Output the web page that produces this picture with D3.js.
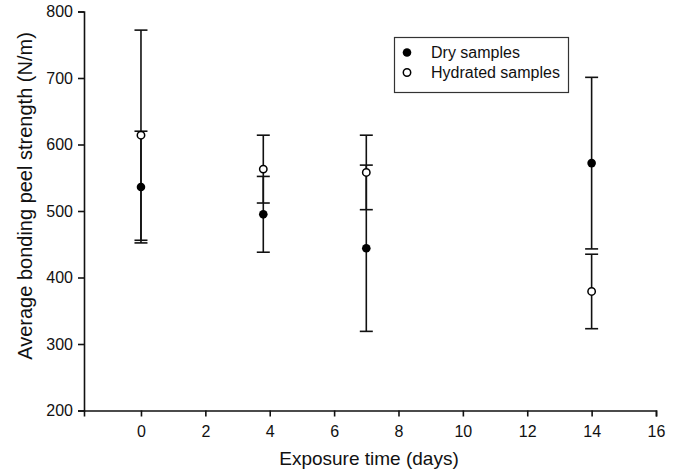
<!DOCTYPE html>
<html>
<head>
<script src="https://cdnjs.cloudflare.com/ajax/libs/d3/7.8.5/d3.min.js"></script>
<style>
  body { margin: 0; background: #fff; font-family: Arial, "Liberation Sans", sans-serif; }
</style>
</head>
<body>
<script>
// exposure time (plot position), means and error half-widths
var days = [0, 3.8, 7, 14];
var dryMean = [536, 495, 444, 572];
var dryErr = [84, 57, 125, 129];
var hydMean = [614, 563, 558, 379];
var hydErr = [158, 51, 56, 56];
var xTicks = [0, 2, 4, 6, 8, 10, 12, 14, 16];
var yTicks = [200, 300, 400, 500, 600, 700, 800];

var width = 682, height = 474;

var svg = d3.select("body").append("svg")
  .attr("width", width)
  .attr("height", height);

var x = d3.scaleLinear().domain([-1.77, 16]).range([84, 656]);
var y = d3.scaleLinear().domain([200, 800]).range([410.5, 11.5]);

var xAxis = svg.append("g")
  .attr("transform", "translate(0," + y(200) + ")")
  .call(d3.axisBottom(x).tickValues(xTicks).tickSizeOuter(0).tickSize(6).tickPadding(9));

var yAxis = svg.append("g")
  .attr("transform", "translate(" + x(-1.77) + ",0)")
  .call(d3.axisLeft(y).tickValues(yTicks).tickSizeOuter(0).tickSize(6).tickPadding(5));

[xAxis, yAxis].forEach(function(a) {
  a.selectAll("path, line").attr("stroke", "#111").attr("stroke-width", 1.6);
  a.selectAll("text")
    .attr("fill", "#111")
    .style("font-family", "Arial, 'Liberation Sans', sans-serif")
    .style("font-size", "16px");
});

svg.append("text")
  .attr("x", 369).attr("y", 465)
  .attr("text-anchor", "middle")
  .style("font-size", "19px")
  .attr("fill", "#111")
  .text("Exposure time (days)");

svg.append("text")
  .attr("transform", "translate(32," + 196 + ") rotate(-90)")
  .attr("text-anchor", "middle")
  .style("font-size", "20px")
  .attr("fill", "#111")
  .text("Average bonding peel strength (N/m)");

function series(mean, err) {
  return days.map(function(d, i) { return {x: d, m: mean[i], e: err[i]}; });
}
var dry = series(dryMean, dryErr);
var hyd = series(hydMean, hydErr);

function drawErr(data) {
  var g = svg.append("g").attr("stroke", "#111").attr("stroke-width", 1.6);
  data.forEach(function(d) {
    var cx = x(d.x);
    g.append("line").attr("x1", cx).attr("x2", cx)
      .attr("y1", y(d.m + d.e)).attr("y2", y(d.m - d.e));
    [d.m + d.e, d.m - d.e].forEach(function(v) {
      g.append("line").attr("x1", cx - 6.5).attr("x2", cx + 6.5)
        .attr("y1", y(v)).attr("y2", y(v));
    });
  });
}
drawErr(dry);
drawErr(hyd);

svg.append("g").selectAll("circle").data(dry).enter().append("circle")
  .attr("cx", function(d) { return x(d.x); })
  .attr("cy", function(d) { return y(d.m); })
  .attr("r", 4.3)
  .attr("fill", "#000");

svg.append("g").selectAll("circle").data(hyd).enter().append("circle")
  .attr("cx", function(d) { return x(d.x); })
  .attr("cy", function(d) { return y(d.m); })
  .attr("r", 3.7)
  .attr("fill", "#fff")
  .attr("stroke", "#000")
  .attr("stroke-width", 1.5);

// legend
var lg = svg.append("g");
lg.append("rect")
  .attr("x", 394.5).attr("y", 37.5)
  .attr("width", 174).attr("height", 55)
  .attr("fill", "#fff").attr("stroke", "#333").attr("stroke-width", 1.2);
lg.append("circle").attr("cx", 407).attr("cy", 52.5).attr("r", 4.3).attr("fill", "#000");
lg.append("circle").attr("cx", 407).attr("cy", 72.5).attr("r", 3.7)
  .attr("fill", "#fff").attr("stroke", "#000").attr("stroke-width", 1.5);
lg.append("text").attr("x", 431).attr("y", 58).style("font-size", "16px").attr("fill", "#111").text("Dry samples");
lg.append("text").attr("x", 431).attr("y", 78).style("font-size", "16px").attr("fill", "#111").text("Hydrated samples");
</script>
</body>
</html>
